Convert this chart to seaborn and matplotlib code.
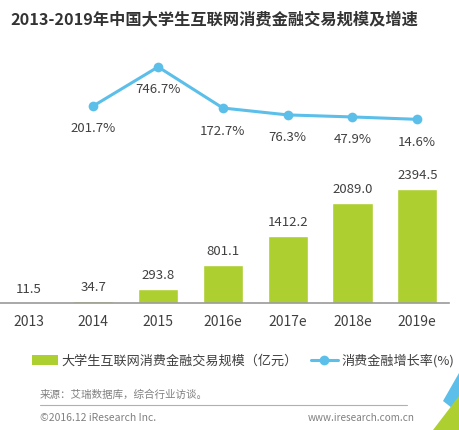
import matplotlib
matplotlib.use("Agg")
import numpy as np
import pandas as pd
import matplotlib.pyplot as plt
import seaborn as sns
from matplotlib.patches import Patch, Polygon
from matplotlib.lines import Line2D

# data
years = ["2013", "2014", "2015", "2016e", "2017e", "2018e", "2019e"]
volume = [11.5, 34.7, 293.8, 801.1, 1412.2, 2089.0, 2394.5]   # 亿元
growth_years = ["2014", "2015", "2016e", "2017e", "2018e", "2019e"]
growth = [201.7, 746.7, 172.7, 76.3, 47.9, 14.6]               # %

GREEN = "#AECF30"
BLUE = "#5BBFEA"
TXT = "#404040"

sns.set_style("white")
plt.rcParams["font.family"] = ["Noto Sans CJK SC", "DejaVu Sans"]

W, H = 459, 430
fig = plt.figure(figsize=(W / 100, H / 100), dpi=100)
ax = fig.add_axes([0, (H - 303) / H, 449 / W, 248 / H])

df = pd.DataFrame({"year": years, "volume": volume})
sns.barplot(data=df, x="year", y="volume", order=years, color=GREEN,
            width=0.62, saturation=1, ax=ax)
ax.bar_label(ax.containers[0], labels=[f"{v:.1f}" for v in volume],
             padding=5, fontsize=9.5, color=TXT)
ax.set_ylim(0, 5200)
ax.set_xlim(-0.44, 6.49)
ax.set_xlabel("")
ax.set_ylabel("")
ax.set_yticks([])
ax.tick_params(axis="x", length=0, pad=9, labelsize=10, labelcolor=TXT)
for s in ["top", "left", "right"]:
    ax.spines[s].set_visible(False)
ax.spines["bottom"].set_color("#9a9a9a")
ax.spines["bottom"].set_linewidth(1.2)

# growth rate on a twin axis
ax2 = ax.twinx()
gdf = pd.DataFrame({"pos": [years.index(y) for y in growth_years], "growth": growth})
sns.lineplot(data=gdf, x="pos", y="growth", color=BLUE, linewidth=2.2,
             marker="o", markersize=7, markeredgewidth=0, ax=ax2)
ax2.set_ylim(-2550, 913)
ax2.set_xlim(-0.44, 6.49)
ax2.set_yticks([])
ax2.set_ylabel("")
ax2.set_xlabel("")
for s in ax2.spines.values():
    s.set_visible(False)
for p, g in zip(gdf["pos"], growth):
    ax2.annotate(f"{g:.1f}%", (p, g), xytext=(0, -23), textcoords="offset pixels",
                 ha="center", va="center", fontsize=9.5, color=TXT)

# title
fig.text(10 / W, 1 - 20 / H, "2013-2019年中国大学生互联网消费金融交易规模及增速",
         fontsize=11.7, fontweight="bold", color="#333333", ha="left", va="center")

# legend
handles = [Patch(facecolor=GREEN, edgecolor="none"),
           Line2D([], [], color=BLUE, linewidth=2.2, marker="o", markersize=6)]
fig.legend(handles, ["大学生互联网消费金融交易规模（亿元）", "消费金融增长率(%)"],
           loc="center", bbox_to_anchor=(243 / W, 1 - 361 / H), ncol=2,
           frameon=False, fontsize=9.45, labelcolor=TXT, handlelength=2.0,
           handleheight=0.75, handletextpad=0.3, columnspacing=1.0)

# footer
fig.text(40 / W, 1 - 395 / H, "来源：艾瑞数据库，综合行业访谈。", fontsize=7.6,
         color="#808080", ha="left", va="center")
fig.add_artist(Line2D([40 / W, 407 / W], [1 - 405 / H] * 2, color="#b0b0b0", linewidth=0.8))
fig.text(40 / W, 1 - 418 / H, "©2016.12 iResearch Inc.", fontsize=7.5,
         color="#808080", ha="left", va="center")
fig.text(415 / W, 1 - 418 / H, "www.iresearch.com.cn", fontsize=7.2,
         color="#808080", ha="right", va="center")

# corner decoration
def px(pts):
    return [(x / W, 1 - y / H) for x, y in pts]

fig.add_artist(Polygon(px([(459, 373), (443, 401), (452, 408), (459, 398)]),
                       closed=True, facecolor=BLUE, edgecolor="none",
                       transform=fig.transFigure))
fig.add_artist(Polygon(px([(459, 396), (433, 430), (459, 430)]),
                       closed=True, facecolor=GREEN, edgecolor="none",
                       transform=fig.transFigure))

fig.savefig("out.png", dpi=100)
